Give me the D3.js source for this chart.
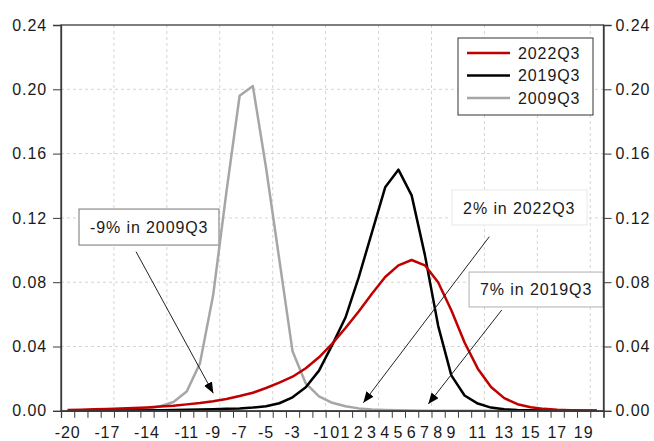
<!DOCTYPE html>
<html>
<head>
<meta charset="utf-8">
<script src="https://cdn.jsdelivr.net/npm/d3@7"></script>
<style>
  html, body { margin: 0; padding: 0; background: #fff; }
  svg { display: block; font-family: "Liberation Sans", Arial, sans-serif; }
  text { letter-spacing: 0.9px; }
</style>
</head>
<body>
<svg id="chart" width="654" height="441"></svg>
<script>
// ---- data ----
const categories = d3.range(-20, 21); // -20 .. 20
const series2022Q3 = [0.0005,0.0007,0.0009,0.0011,0.0014,0.0017,0.0021,0.0026,0.0032,0.0040,
  0.0049,0.0060,0.0074,0.0092,0.0112,0.0142,0.0175,0.0212,0.0265,0.0333,
  0.0418,0.0515,0.0618,0.0728,0.0832,0.0905,0.0938,0.0905,0.0800,0.0625,
  0.0425,0.0262,0.0148,0.0079,0.0041,0.0022,0.0012,0.0007,0.0004,0.0002,0.0001];
const series2019Q3 = [0.0001,0.0001,0.0001,0.0001,0.0002,0.0002,0.0003,0.0004,0.0005,0.0006,
  0.0008,0.0010,0.0012,0.0015,0.0020,0.0028,0.0047,0.0084,0.0146,0.0250,
  0.0410,0.0580,0.0830,0.1110,0.1390,0.1500,0.1340,0.0970,0.0530,0.0220,
  0.0095,0.0045,0.0020,0.0010,0.0005,0.0003,0.0002,0.0001,0.0001,0.0001,0.0001];
const series2009Q3 = [0.0001,0.0001,0.0002,0.0003,0.0004,0.0006,0.0012,0.0028,0.0055,0.0120,
  0.0295,0.0720,0.1360,0.1960,0.2020,0.1510,0.0940,0.0370,0.0170,0.0090,
  0.0050,0.0028,0.0015,0.0008,0.0005,0.0003,0.0002,0.0001,0.0001,0.0001,
  0.0001,0.0001,0.0001,0.0001,0.0001,0.0001,0.0001,0.0001,0.0001,0.0001,0.0001];
const seriesNames = ["2022Q3", "2019Q3", "2009Q3"];
const xTickLabels = [-20,-17,-14,-11,-9,-7,-5,-3,-1,0,1,2,3,4,5,6,7,8,9,11,13,15,17,19];
const yTickValues = [0, 0.04, 0.08, 0.12, 0.16, 0.20, 0.24];

// annotations (in data units: category value, density)
const annotationTexts = ["-9% in 2009Q3", "2% in 2022Q3", "7% in 2019Q3"];
const annotationBoxX = [[-19.14, -8.56], [9.05, 19.26], [10.34, 20.47]];
const annotationBoxY = [[0.1255, 0.1031], [0.1374, 0.1156], [0.0863, 0.0646]];
const annotationTextPos = [[-18.31, 0.1143], [9.89, 0.1262], [11.17, 0.0755]];
const arrowFrom = [[-14.83, 0.099], [11.87, 0.1083], [12.81, 0.0627]];
const arrowTo = [[-8.99, 0.0109], [2.35, 0.0050], [7.26, 0.0042]];

// ---- styles ----
const colors = ["#c00000", "#000000", "#a6a6a6"];
const annotationStroke = ["#8c8c8c", "#ececec", "#bdbdbd"];

const svg = d3.select("#chart");
const L = 61, R = 603.5, T = 25, B = 410.8;
const x = d3.scaleLinear().domain([-20.5, 20.5]).range([L, R]);
const y = d3.scaleLinear().domain([0, 0.24]).range([B, T]);

// grid
const grid = svg.append("g").attr("stroke", "#d4d4d4").attr("stroke-width", 1)
  .attr("stroke-dasharray", "3,3");
grid.selectAll("line.h").data(yTickValues.filter(v => v > 0 && v < 0.24)).join("line")
  .attr("x1", L).attr("x2", R).attr("y1", d => y(d)).attr("y2", d => y(d));
grid.selectAll("line.v").data(d3.range(-16.5, 20, 4)).join("line")
  .attr("x1", d => x(d)).attr("x2", d => x(d)).attr("y1", T).attr("y2", B);

// annotation boxes
const ann = svg.append("g");
annotationTexts.forEach((t, i) => {
  const [x0, x1] = annotationBoxX[i].map(x);
  const [y0, y1] = annotationBoxY[i].map(y);
  ann.append("rect").attr("x", x0).attr("y", y0).attr("width", x1 - x0).attr("height", y1 - y0)
    .attr("fill", "#fff").attr("stroke", annotationStroke[i]).attr("stroke-width", 1.2);
  ann.append("text").attr("x", x(annotationTextPos[i][0])).attr("y", y(annotationTextPos[i][1]))
    .attr("dy", "0.35em").attr("font-size", 16).attr("fill", "#1a1a1a").text(t);
});

// curves
const allSeries = [series2022Q3, series2019Q3, series2009Q3];
const line = d3.line().x((d, i) => x(categories[i])).y(d => y(d));
// draw gray first, then black, then red on top
[2, 1, 0].forEach(k => {
  svg.append("path").datum(allSeries[k]).attr("d", line)
    .attr("fill", "none").attr("stroke", colors[k]).attr("stroke-width", 2.5)
    .attr("stroke-linejoin", "round");
});

// arrows
const defs = svg.append("defs");
defs.append("marker").attr("id", "ah").attr("markerUnits", "userSpaceOnUse")
  .attr("markerWidth", 12).attr("markerHeight", 10).attr("refX", 11).attr("refY", 4.5)
  .attr("orient", "auto")
  .append("path").attr("d", "M0,0 L11,4.5 L0,9 Z").attr("fill", "#000");
arrowFrom.forEach((f, i) => {
  svg.append("line").attr("x1", x(f[0])).attr("y1", y(f[1]))
    .attr("x2", x(arrowTo[i][0])).attr("y2", y(arrowTo[i][1]))
    .attr("stroke", "#222").attr("stroke-width", 1).attr("marker-end", "url(#ah)");
});

// frame
svg.append("rect").attr("x", L).attr("y", T).attr("width", R - L).attr("height", B - T)
  .attr("fill", "none").attr("stroke", "#3a3a3a").attr("stroke-width", 1.3);

// axes
const fmt = d3.format(".2f");
const axL = svg.append("g").attr("transform", `translate(${L},0)`)
  .call(d3.axisLeft(y).tickValues(yTickValues).tickFormat(fmt).tickSize(8).tickPadding(6));
const axR = svg.append("g").attr("transform", `translate(${R},0)`)
  .call(d3.axisRight(y).tickValues(yTickValues).tickFormat(fmt).tickSize(8).tickPadding(4));
const axB = svg.append("g").attr("transform", `translate(0,${B})`)
  .call(d3.axisBottom(x).tickValues(d3.range(-20.5, 20.6, 1)).tickFormat("").tickSize(7));
[axL, axR, axB].forEach(a => {
  a.select(".domain").attr("stroke", "#3a3a3a").attr("stroke-width", 1.3);
  a.selectAll(".tick line").attr("stroke", "#3a3a3a").attr("stroke-width", 1);
  a.selectAll("text").attr("font-size", 16).attr("font-family", "Liberation Sans, Arial, sans-serif")
    .attr("fill", "#1a1a1a");
});

// bottom labels
const split = x(0) - 3;
svg.append("g").selectAll("text").data(xTickLabels).join("text")
  .attr("x", d => d === -1 ? split : d === 0 ? split + 1 : x(d))
  .attr("text-anchor", d => d === -1 ? "end" : d === 0 ? "start" : "middle")
  .attr("y", 438).attr("font-size", 16).attr("fill", "#1a1a1a")
  .text(d => d);

// legend
const lg = svg.append("g");
lg.append("rect").attr("x", 458).attr("y", 38).attr("width", 135).attr("height", 77)
  .attr("fill", "#fff").attr("stroke", "#333").attr("stroke-width", 1);
seriesNames.forEach((n, i) => {
  const yy = 53 + i * 22.5;
  lg.append("line").attr("x1", 467).attr("x2", 510).attr("y1", yy).attr("y2", yy)
    .attr("stroke", colors[i]).attr("stroke-width", 2.5);
  lg.append("text").attr("x", 518).attr("y", yy).attr("dy", "0.36em")
    .attr("font-size", 16).attr("fill", "#1a1a1a").text(n);
});
</script>
</body>
</html>
